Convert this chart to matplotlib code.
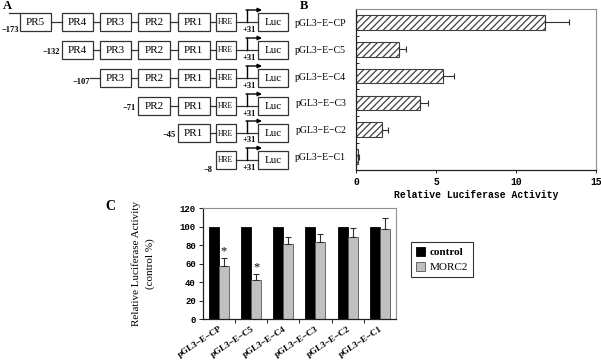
import matplotlib
matplotlib.use("Agg")
import matplotlib.pyplot as plt
from matplotlib.patches import Rectangle
import numpy as np

# ---------------- data ----------------
constructs = ["pGL3\u2212E\u2212CP", "pGL3\u2212E\u2212C5", "pGL3\u2212E\u2212C4",
              "pGL3\u2212E\u2212C3", "pGL3\u2212E\u2212C2", "pGL3\u2212E\u2212C1"]
luc_activity = [11.8, 2.7, 5.45, 4.0, 1.6, 0.15]
luc_err = [1.5, 0.4, 0.65, 0.5, 0.4, 0.05]

control_pct = [100, 100, 100, 100, 100, 100]
morc2_pct = [58, 43, 81, 84, 89, 98]
morc2_err = [8, 6, 8, 8, 10, 12]
significant = [True, True, False, False, False, False]

# schematic content
elements = ["PR5", "PR4", "PR3", "PR2", "PR1", "HRE"]
start_labels = ["\u2212173", "\u2212132", "\u2212107", "\u221271", "\u221245", "\u22128"]

SERIF = ["Liberation Serif", "DejaVu Serif"]
MONO = ["Liberation Mono", "DejaVu Sans Mono"]

fig = plt.figure(figsize=(6.01, 3.60), dpi=100)

# ---------------- panel A (schematic, pixel coordinates) ----------------
ax0 = fig.add_axes([0, 0, 1, 1])
ax0.set_xlim(0, 601)
ax0.set_ylim(360, 0)
ax0.axis("off")

box_x = [(20, 51), (61.5, 92.5), (100, 131), (138, 170), (177.5, 210), (215.5, 235.5)]
luc_x = (258, 288)
row_y = [22, 50, 78, 106, 133, 160]
bh = 18
lc = "#333333"
for r, yc in enumerate(row_y):
    for k in range(r, len(elements)):
        x0, x1 = box_x[k]
        ax0.add_patch(Rectangle((x0, yc - bh / 2), x1 - x0, bh, fill=False,
                                ec=lc, lw=0.9))
        fs = 5.5 if elements[k] == "HRE" else 8
        ax0.text((x0 + x1) / 2, yc + 0.5, elements[k], ha="center", va="center",
                 fontsize=fs, family=SERIF)
        nx = box_x[k + 1][0] if k + 1 < len(elements) else luc_x[0]
        ax0.plot([x1, nx], [yc, yc], color=lc, lw=0.9)
    # Luc box
    ax0.add_patch(Rectangle((luc_x[0], yc - bh / 2), luc_x[1] - luc_x[0], bh,
                            fill=False, ec=lc, lw=0.9))
    ax0.text((luc_x[0] + luc_x[1]) / 2, yc + 0.5, "Luc", ha="center", va="center",
             fontsize=8, family=SERIF)
    # transcription start arrow
    ax0.plot([246.5, 246.5], [yc, yc - 12], color="black", lw=1.0)
    ax0.annotate("", xy=(262, yc - 12), xytext=(246, yc - 12),
                 arrowprops=dict(arrowstyle="-|>", color="black", lw=1.0,
                                 mutation_scale=6, shrinkA=0, shrinkB=0))
    ax0.text(249, yc + 7.5, "+31", ha="center", va="center", fontsize=6,
             family=SERIF, fontweight="bold")
    # start position label
    bx = box_x[r][0]
    if r == 0:
        ax0.plot([9, bx], [yc - 9, yc - 9], color=lc, lw=0.9)
        ax0.text(10, yc + 7.5, start_labels[r], ha="center", va="center",
                 fontsize=6, family=SERIF, fontweight="bold")
    elif r == 2:
        ax0.plot([bx - 10, bx], [yc, yc], color=lc, lw=0.9)
        ax0.text(bx - 10, yc + 3.5, start_labels[r], ha="right", va="center",
                 fontsize=6, family=SERIF, fontweight="bold")
    elif r == 5:
        ax0.text(bx - 8, yc + 10, start_labels[r], ha="center", va="center",
                 fontsize=6, family=SERIF, fontweight="bold")
    else:
        ax0.text(bx - 2, yc + 2, start_labels[r], ha="right", va="center",
                 fontsize=6, family=SERIF, fontweight="bold")

ax0.text(3, 6, "A", fontsize=9, fontweight="bold", family=SERIF, va="center")
ax0.text(300, 6, "B", fontsize=9, fontweight="bold", family=SERIF, va="center")
ax0.text(105, 206, "C", fontsize=10, fontweight="bold", family=SERIF, va="center")

# ---------------- panel B ----------------
axB = fig.add_axes([356 / 601, 1 - 170 / 360, 240 / 601, 161 / 360])
yB = np.arange(len(constructs))
plt.rcParams["hatch.linewidth"] = 0.9
axB.barh(yB, luc_activity, height=0.55, color="white", edgecolor="#404040",
         hatch="/////", lw=0.8)
axB.errorbar(luc_activity, yB, xerr=[np.zeros(len(luc_err)), luc_err], fmt="none",
             ecolor="#303030", elinewidth=0.8, capsize=2, capthick=0.8)
axB.set_xlim(0, 15)
axB.set_ylim(len(constructs) - 0.5, -0.5)
axB.set_xticks([0, 5, 10, 15])
axB.set_xticklabels(["0", "5", "10", "15"], family=MONO, fontweight="bold", fontsize=7)
axB.set_yticks(yB)
axB.set_yticklabels(constructs, family=SERIF, fontsize=7)
axB.set_yticks(np.arange(0.5, len(constructs) - 1, 1.0), minor=True)
axB.tick_params(axis="y", which="major", length=0, pad=7)
axB.tick_params(axis="y", which="minor", direction="in", length=2.5, width=0.6)
axB.tick_params(axis="x", which="major", direction="out", length=2, width=0.6, pad=3)
axB.set_xlabel("Relative Luciferase Activity", family=MONO, fontweight="bold",
               fontsize=7, labelpad=2)
for s in ["top", "right"]:
    axB.spines[s].set_color("#909090")
    axB.spines[s].set_linewidth(0.8)
for s in ["left", "bottom"]:
    axB.spines[s].set_color("#202020")
    axB.spines[s].set_linewidth(0.9)

# ---------------- panel C ----------------
axC = fig.add_axes([202.7 / 601, 1 - 319.3 / 360, 193.3 / 601, 111 / 360])
xC = np.arange(len(constructs))
w = 0.31
axC.bar(xC - w / 2, control_pct, width=w, color="black", edgecolor="black",
        lw=0.6, label="control")
axC.bar(xC + w / 2, morc2_pct, width=w, color="#c0c0c0", edgecolor="#555555",
        lw=0.6, label="MORC2")
axC.errorbar(xC + w / 2, morc2_pct, yerr=[np.zeros(len(morc2_err)), morc2_err],
             fmt="none", ecolor="#303030", elinewidth=0.8, capsize=2, capthick=0.8)
for i, sig in enumerate(significant):
    if sig:
        axC.text(xC[i] + w / 2, morc2_pct[i] + morc2_err[i] + 1, "*", ha="center",
                 va="bottom", fontsize=9, family=SERIF)
axC.set_xlim(-0.5, len(constructs) - 0.5)
axC.set_ylim(0, 120)
axC.set_yticks(np.arange(0, 121, 20))
axC.set_yticklabels([str(v) for v in range(0, 121, 20)], family=MONO,
                    fontweight="bold", fontsize=6.5)
axC.set_xticks(xC)
axC.set_xticklabels(constructs, rotation=33, ha="right", rotation_mode="anchor",
                    family=SERIF, fontsize=6.5, fontweight="bold")
axC.set_xticks(np.arange(0.5, len(constructs) - 1, 1.0), minor=True)
axC.tick_params(axis="x", which="major", length=0, pad=4)
axC.tick_params(axis="x", which="minor", direction="out", length=3, width=0.6)
axC.tick_params(axis="y", direction="out", length=3, width=0.6, pad=2)
axC.set_ylabel("Relative Luciferase Activity\n(control %)", family=SERIF,
               fontsize=8, labelpad=18, linespacing=1.5)
for s in ["top", "right"]:
    axC.spines[s].set_color("#909090")
    axC.spines[s].set_linewidth(0.8)
for s in ["left", "bottom"]:
    axC.spines[s].set_color("#202020")
    axC.spines[s].set_linewidth(0.9)

leg = fig.legend(loc="upper left", bbox_to_anchor=(411 / 601, 1 - 242 / 360),
                 frameon=True, fancybox=False, edgecolor="black",
                 prop={"family": SERIF, "size": 8}, handlelength=0.8,
                 handleheight=0.8, handletextpad=0.4, borderpad=0.45,
                 labelspacing=0.45, borderaxespad=0)
leg.get_frame().set_linewidth(0.8)
leg.get_texts()[0].set_fontweight("bold")

fig.savefig("out.png", dpi=100)
